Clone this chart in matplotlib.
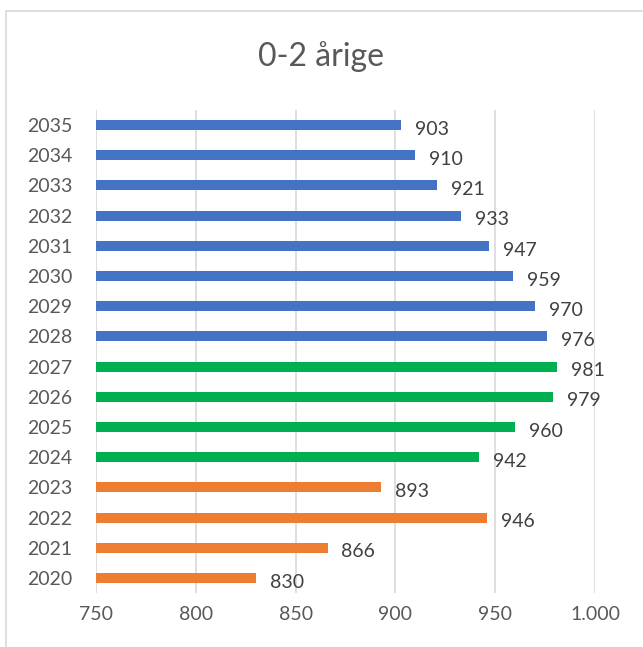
import matplotlib.pyplot as plt
from matplotlib.patches import Rectangle
from matplotlib.ticker import FuncFormatter

# Data
aar = ['2020', '2021', '2022', '2023', '2024', '2025', '2026', '2027',
       '2028', '2029', '2030', '2031', '2032', '2033', '2034', '2035']
antal = [830, 866, 946, 893, 942, 960, 979, 981,
         976, 970, 959, 947, 933, 921, 910, 903]
farver = ['#ED7D31'] * 4 + ['#00B050'] * 4 + ['#4472C4'] * 8

plt.rcParams['font.family'] = ['Lato', 'DejaVu Sans']
tekst = '#595959'

fig = plt.figure(figsize=(6.43, 6.47), dpi=100)
ax = fig.add_axes([96/643, 1 - 593/647, (595 - 96)/643, (593 - 110)/647])

pos = range(len(aar))
ax.barh(pos, [a - 750 for a in antal], left=750, height=0.33, color=farver, zorder=3)

for i, a in enumerate(antal):
    ax.annotate(str(a), (a, i), xytext=(10, -3), textcoords='offset points',
                va='center', ha='left', fontsize=14, color='#404040')

ax.set_xlim(750, 1000)
ax.set_ylim(-0.5, len(aar) - 0.5)
ax.set_xticks([750, 800, 850, 900, 950, 1000])
ax.xaxis.set_major_formatter(FuncFormatter(lambda v, p: f'{int(v):,}'.replace(',', '.')))
ax.set_yticks(list(pos))
ax.set_yticklabels(aar)
ax.tick_params(axis='both', length=0, labelsize=14, labelcolor=tekst)
ax.tick_params(axis='y', pad=17)
ax.tick_params(axis='x', pad=9)
ax.grid(axis='x', color='#D9D9D9', linewidth=1.2, zorder=0)
for s in ax.spines.values():
    s.set_visible(False)

fig.text(0.5, 1 - 57/647, '0-2 årige', ha='center', va='center', fontsize=23, color=tekst)

# ramme om diagrammet
fig.patches.append(Rectangle((6/643, -0.05), 1.2, 1 - 11/647 + 0.05, transform=fig.transFigure,
                             fill=False, edgecolor='#D9D9D9', linewidth=1.2))

fig.savefig('out.png', dpi=100)
